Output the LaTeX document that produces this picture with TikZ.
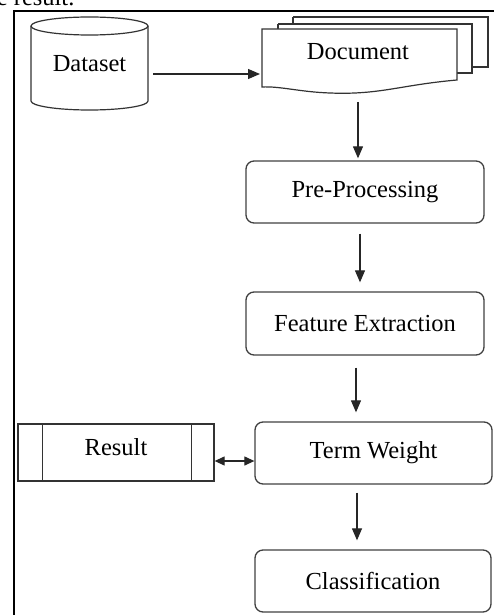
\documentclass[tikz,border=0pt]{standalone}
\usepackage{fontspec}
\setmainfont{Liberation Serif}
\usetikzlibrary{arrows.meta}
\begin{document}
\begin{tikzpicture}[x=1pt,y=-1pt,
  line width=1.2pt, draw=black!85,
  lbl/.style={font=\fontsize{24.5}{28}\selectfont, text=black},
  rbox/.style={draw=black!75, rounded corners=8pt, line width=1.3pt},
  flow/.style={-{Triangle[width=10pt,length=12pt]}, line width=1.2pt},
  both/.style={{Triangle[width=9pt,length=10pt]}-{Triangle[width=9pt,length=10pt]}, line width=1.2pt}]
\useasboundingbox (0,0) rectangle (494,615);
% partial text at top
\node[lbl, anchor=base east, inner sep=0pt] (toptext) at (75,6) {e result.};
% frame
\draw[line width=1.3pt, black] (14,615) -- (14,11) -- (494,11);
% Dataset cylinder
\draw[line width=1.2pt, black!80] (31,26) -- (31,101) arc[start angle=180, end angle=0, x radius=58.5, y radius=9] -- (148,26);
\draw[line width=1.2pt, black!80] (89.5,26) ellipse[x radius=58.5, y radius=9];
\node[lbl] (dataset) at (89.5,64) {Dataset};
% Document stack
\draw[line width=1.2pt, black!80, fill=white] (293,17) -- (488,17) -- (488,67) -- (472,67);
\draw[line width=1.2pt, black!80, fill=white] (278,24) -- (472,24) -- (472,73) -- (457,73);
\draw[line width=1.2pt, black!80, fill=white] (293,17) -- (293,24);
\draw[line width=1.2pt, black!80, fill=white] (278,24) -- (278,29);
\draw[line width=1.2pt, black!80, fill=white] (262,29) -- (457,29) -- (457,80)
  .. controls (400,85) and (380,95) .. (330,93)
  .. controls (300,92) and (280,86) .. (262,87) -- cycle;
\node[lbl] (document) at (358,52) {Document};
\coordinate (docbot) at (358,102);
\coordinate (docin) at (260,74);
% boxes
\node[rbox, lbl, minimum width=238pt, minimum height=62pt] (pre) at (365,192) {Pre-Processing};
\node[rbox, lbl, minimum width=238pt, minimum height=63pt] (feat) at (365,323.5) {Feature Extraction};
\node[rbox, lbl, minimum width=237pt, minimum height=62pt] (term) at (373.5,453) {Term Weight};
\node[rbox, lbl, minimum width=236pt, minimum height=62pt] (class) at (373,581) {Classification};
% Result box
\node[draw=black!80, line width=1.3pt, lbl, minimum width=196pt, minimum height=57pt, inner sep=0pt] (result) at (116,452.5) {};
\node[lbl] (resulttext) at (116,447) {Result};
\draw[line width=1.2pt, black!80] ([xshift=25pt]result.north west) -- ([xshift=25pt]result.south west);
\draw[line width=1.2pt, black!80] ([xshift=-23pt]result.north east) -- ([xshift=-23pt]result.south east);
% connectors
\draw[flow] (153,74) -- (docin);
\draw[flow] (docbot) -- ([yshift=2pt]pre.north -| docbot);
\draw[flow] ([yshift=-10pt]pre.south -| 360,0) -- ([yshift=9pt]feat.north -| 360,0);
\draw[flow] ([yshift=-12pt]feat.south -| 356,0) -- ([yshift=9pt]term.north -| 356,0);
\draw[flow] ([yshift=-8pt]term.south -| 357,0) -- ([yshift=9pt]class.north -| 357,0);
\draw[both] (result.east |- 0,461) -- (term.west |- 0,461);
\end{tikzpicture}
\end{document}
